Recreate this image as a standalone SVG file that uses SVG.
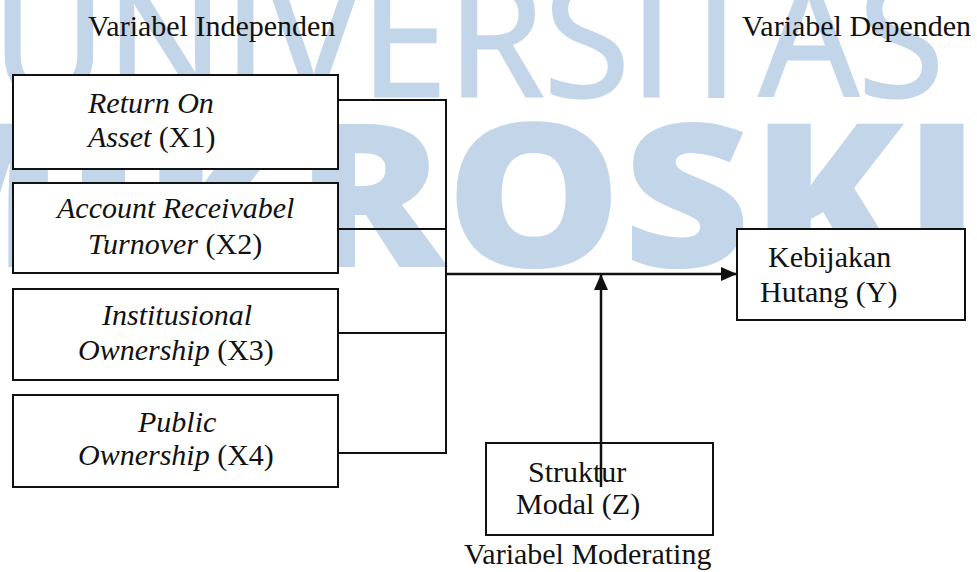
<svg xmlns="http://www.w3.org/2000/svg" width="977" height="572" viewBox="0 0 977 572">
<defs>
<style>
.wm{fill:#c3d5e9;font-family:"Open Sans","Liberation Sans",sans-serif}
.box{fill:#fff;stroke:#111;stroke-width:2}
.t{font-family:"Liberation Serif","Times New Roman",serif;font-size:30px;fill:#111}
.i{font-style:italic}
.c{fill:none;stroke:#111;stroke-width:2}
.a{fill:none;stroke:#111;stroke-width:2.5}
</style>
<marker id="arr" viewBox="0 0 16 16" refX="16" refY="8" markerWidth="16" markerHeight="16" markerUnits="userSpaceOnUse" orient="auto">
<path d="M0,1 L16,8 L0,15 z" fill="#111"/>
</marker>
</defs>
<rect width="977" height="572" fill="#fff"/>
<g id="watermark">
<text class="wm" x="-8" y="96" font-size="162" stroke="#c3d5e9" stroke-width="3" textLength="952" lengthAdjust="spacingAndGlyphs">UNIVERSITAS</text>
<text class="wm" x="-150" y="267" font-size="200" font-weight="800" textLength="1260" lengthAdjust="spacingAndGlyphs">MIKROSKIL</text>
</g>
<g id="labels">
<text class="t" x="88" y="36">Variabel Independen</text>
<text class="t" x="742" y="36">Variabel Dependen</text>
<text class="t" x="464" y="564">Variabel Moderating</text>
</g>
<g id="x1">
<rect class="box" x="13" y="75" width="325" height="94"/>
<text class="t i" x="88" y="113">Return On</text>
<text class="t" x="88" y="147"><tspan class="i">Asset</tspan> (X1)</text>
</g>
<g id="x2">
<rect class="box" x="13" y="183" width="325" height="90"/>
<text class="t i" x="57" y="218">Account Receivabel</text>
<text class="t" x="88" y="254"><tspan class="i">Turnover</tspan> (X2)</text>
</g>
<g id="x3">
<rect class="box" x="13" y="289" width="325" height="91"/>
<text class="t i" x="102" y="325">Institusional</text>
<text class="t" x="78" y="360"><tspan class="i">Ownership</tspan> (X3)</text>
</g>
<g id="x4">
<rect class="box" x="13" y="395" width="325" height="92"/>
<text class="t i" x="138" y="432">Public</text>
<text class="t" x="78" y="465"><tspan class="i">Ownership</tspan> (X4)</text>
</g>
<g id="y">
<rect class="box" x="737" y="229" width="228" height="91"/>
<text class="t" x="768" y="267">Kebijakan</text>
<text class="t" x="760" y="302">Hutang (Y)</text>
</g>
<g id="z">
<rect class="box" x="486" y="443" width="227" height="92"/>
<text class="t" x="528" y="482">Struktur</text>
<text class="t" x="516" y="514">Modal (Z)</text>
</g>
<g id="connectors">
<path class="c" d="M338,100 H446 M338,229 H446 M338,333 H446 M338,453 H446 M446,99 V454"/>
<path class="a" d="M446,274 H737" marker-end="url(#arr)"/>
<path class="a" d="M601,487 V274" marker-end="url(#arr)"/>
</g>
</svg>
